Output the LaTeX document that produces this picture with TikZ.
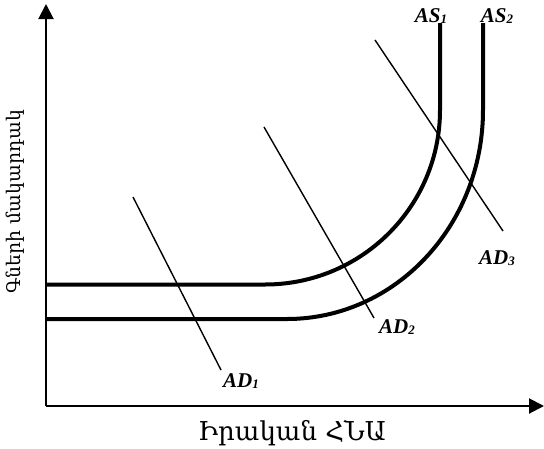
\documentclass[tikz,border=0pt]{standalone}
\usepackage{fontspec}
\setmainfont{Liberation Serif}
\newfontfamily\armfont{DejaVu Serif}
\usetikzlibrary{arrows.meta}
\tikzset{
  axisline/.style={line width=2pt,-{Triangle[length=15pt,width=15pt]}},
  asline/.style={line width=4pt},
  adline/.style={line width=1.4pt},
  curvelabel/.style={inner sep=0pt,font=\fontsize{21}{21}\selectfont\bfseries\itshape},
  xlabelstyle/.style={inner sep=0pt,font=\armfont\fontsize{26}{26}\selectfont},
  ylabelstyle/.style={inner sep=0pt,font=\armfont\fontsize{18.8}{18.8}\selectfont}
}
\newcommand{\sbs}[1]{{\fontsize{13}{13}\selectfont\raisebox{-1pt}{#1}}}
\begin{document}
\begin{tikzpicture}[x=1pt,y=-1pt]
\useasboundingbox (0,0) rectangle (544,448);
% axes
\coordinate (O) at (46,406);
\coordinate (ytip) at (46,4);
\coordinate (xtip) at (544,406);
\draw[axisline] (O) -- (ytip);
\draw[axisline] (O) -- (xtip);
% AS curves
\coordinate (as1a) at (46,284.5);
\coordinate (as1b) at (265,284.5);
\coordinate (as1c) at (440,110);
\coordinate (as1d) at (440,23);
\draw[asline] (as1a) -- (as1b) .. controls (361.6,284.5) and (440,206.4) .. (as1c) -- (as1d);
\coordinate (as2a) at (46,319);
\coordinate (as2b) at (287,319);
\coordinate (as2c) at (483,110);
\coordinate (as2d) at (483,23);
\draw[asline] (as2a) -- (as2b) .. controls (395.3,319) and (483,225.4) .. (as2c) -- (as2d);
% AD lines
\coordinate (ad1a) at (133,197);
\coordinate (ad1b) at (221,370);
\coordinate (ad2a) at (264,127);
\coordinate (ad2b) at (374,318);
\coordinate (ad3a) at (375,40);
\coordinate (ad3b) at (503,231);
\draw[adline] (ad1a) -- (ad1b);
\draw[adline] (ad2a) -- (ad2b);
\draw[adline] (ad3a) -- (ad3b);
% labels
\node[curvelabel] (las1) at (431,16) {AS\sbs{1}};
\node[curvelabel] (las2) at (497,16) {AS\sbs{2}};
\node[curvelabel] (lad1) at (241,381) {AD\sbs{1}};
\node[curvelabel] (lad2) at (397,327) {AD\sbs{2}};
\node[curvelabel] (lad3) at (497,258) {AD\sbs{3}};
\node[xlabelstyle] (xlab) at (292,433) {Իրական ՀՆԱ};
\node[ylabelstyle,rotate=90] (ylab) at (15,202) {Գների մակարդակ};
\end{tikzpicture}
\end{document}
